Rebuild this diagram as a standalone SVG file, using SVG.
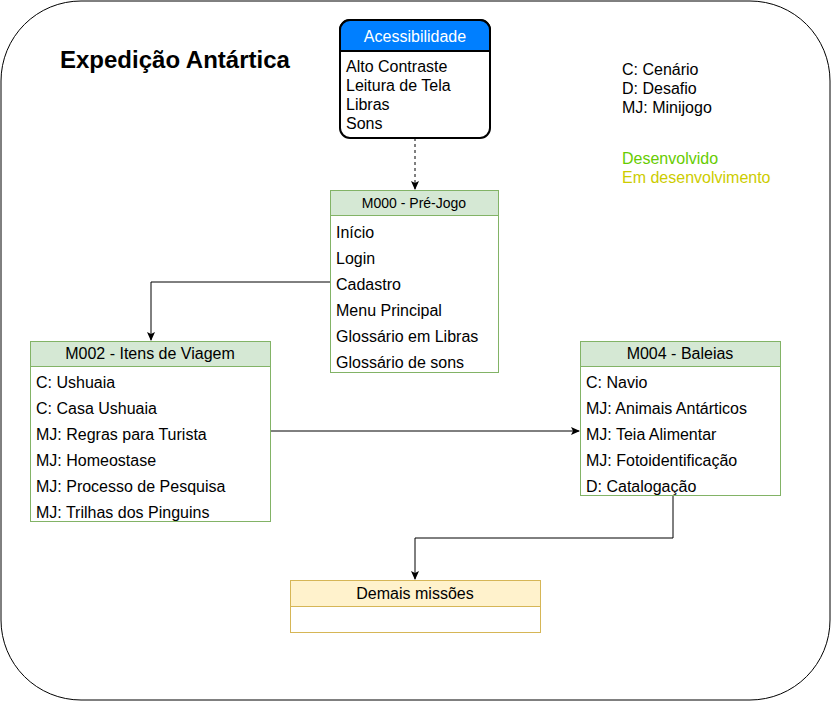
<svg xmlns="http://www.w3.org/2000/svg" width="831" height="701" viewBox="0 0 831 701">
<defs>
<marker id="arr" markerWidth="10" markerHeight="10" refX="8" refY="5" orient="auto" markerUnits="userSpaceOnUse">
<path d="M0,1 L9,5 L0,9 L2,5 Z" fill="#000"/>
</marker>
<style>
text{font-family:"Liberation Sans",Arial,sans-serif;fill:#000}
.row{font-size:16px}
.hdr{font-size:16px;text-anchor:middle}
.gbox{fill:#fff;stroke:#82b366;stroke-width:1}
.ghdr{fill:#d5e8d4;stroke:#82b366;stroke-width:1}
.conn{fill:none;stroke:#000;stroke-width:1}
</style>
</defs>
<rect x="1" y="1" width="829" height="699" rx="80" ry="80" fill="#fff" stroke="#000" stroke-width="1"/>
<text x="60" y="68" style="font-size:24px;font-weight:bold">Expedição Antártica</text>
<g id="legend">
<text class="row" x="622" y="75">C: Cenário</text>
<text class="row" x="622" y="94">D: Desafio</text>
<text class="row" x="622" y="113">MJ: Minijogo</text>
<text class="row" x="622" y="164" style="fill:#66cc00">Desenvolvido</text>
<text class="row" x="622" y="183" style="fill:#cccc00">Em desenvolvimento</text>
</g>
<g id="connectors">
<path class="conn" d="M415,138 V189" stroke-dasharray="3,3" marker-end="url(#arr)"/>
<path class="conn" d="M330,282 H151 V340" marker-end="url(#arr)"/>
<path class="conn" d="M270,431 H579" marker-end="url(#arr)"/>
<path class="conn" d="M673,495 V538 H415 V579" marker-end="url(#arr)"/>
</g>
<g id="acessibilidade">
<rect x="340" y="20" width="150" height="118" rx="10" ry="10" fill="#fff" stroke="#000" stroke-width="2"/>
<path d="M340,51 V30 A10,10 0 0 1 350,20 H480 A10,10 0 0 1 490,30 V51 Z" fill="#007fff" stroke="#000" stroke-width="2"/>
<text class="hdr" x="415" y="42" style="fill:#fff">Acessibilidade</text>
<text class="row" x="346" y="72">Alto Contraste</text>
<text class="row" x="346" y="91">Leitura de Tela</text>
<text class="row" x="346" y="110">Libras</text>
<text class="row" x="346" y="129">Sons</text>
</g>
<g id="m000">
<rect class="gbox" x="330.5" y="190.5" width="168" height="182"/>
<rect class="ghdr" x="330.5" y="190.5" width="168" height="25"/>
<text x="414" y="208" style="font-size:14px;text-anchor:middle">M000 - Pré-Jogo</text>
<text class="row" x="336" y="238">Início</text>
<text class="row" x="336" y="264">Login</text>
<text class="row" x="336" y="290">Cadastro</text>
<text class="row" x="336" y="316">Menu Principal</text>
<text class="row" x="336" y="342">Glossário em Libras</text>
<text class="row" x="336" y="368">Glossário de sons</text>
</g>
<g id="m002">
<rect class="gbox" x="30.5" y="341.5" width="240" height="180"/>
<rect class="ghdr" x="30.5" y="341.5" width="240" height="25"/>
<text class="hdr" x="150" y="359">M002 - Itens de Viagem</text>
<text class="row" x="36" y="388">C: Ushuaia</text>
<text class="row" x="36" y="414">C: Casa Ushuaia</text>
<text class="row" x="36" y="440">MJ: Regras para Turista</text>
<text class="row" x="36" y="466">MJ: Homeostase</text>
<text class="row" x="36" y="492">MJ: Processo de Pesquisa</text>
<text class="row" x="36" y="518">MJ: Trilhas dos Pinguins</text>
</g>
<g id="m004">
<rect class="gbox" x="580.5" y="341.5" width="200" height="154"/>
<rect class="ghdr" x="580.5" y="341.5" width="200" height="25"/>
<text class="hdr" x="680" y="359">M004 - Baleias</text>
<text class="row" x="586" y="388">C: Navio</text>
<text class="row" x="586" y="414">MJ: Animais Antárticos</text>
<text class="row" x="586" y="440">MJ: Teia Alimentar</text>
<text class="row" x="586" y="466">MJ: Fotoidentificação</text>
<text class="row" x="586" y="492">D: Catalogação</text>
</g>
<g id="demais">
<rect x="290.5" y="580.5" width="250" height="52" fill="#fff" stroke="#d6b656"/>
<rect x="290.5" y="580.5" width="250" height="26" fill="#fff2cc" stroke="#d6b656"/>
<text class="hdr" x="415" y="599">Demais missões</text>
</g>
</svg>
